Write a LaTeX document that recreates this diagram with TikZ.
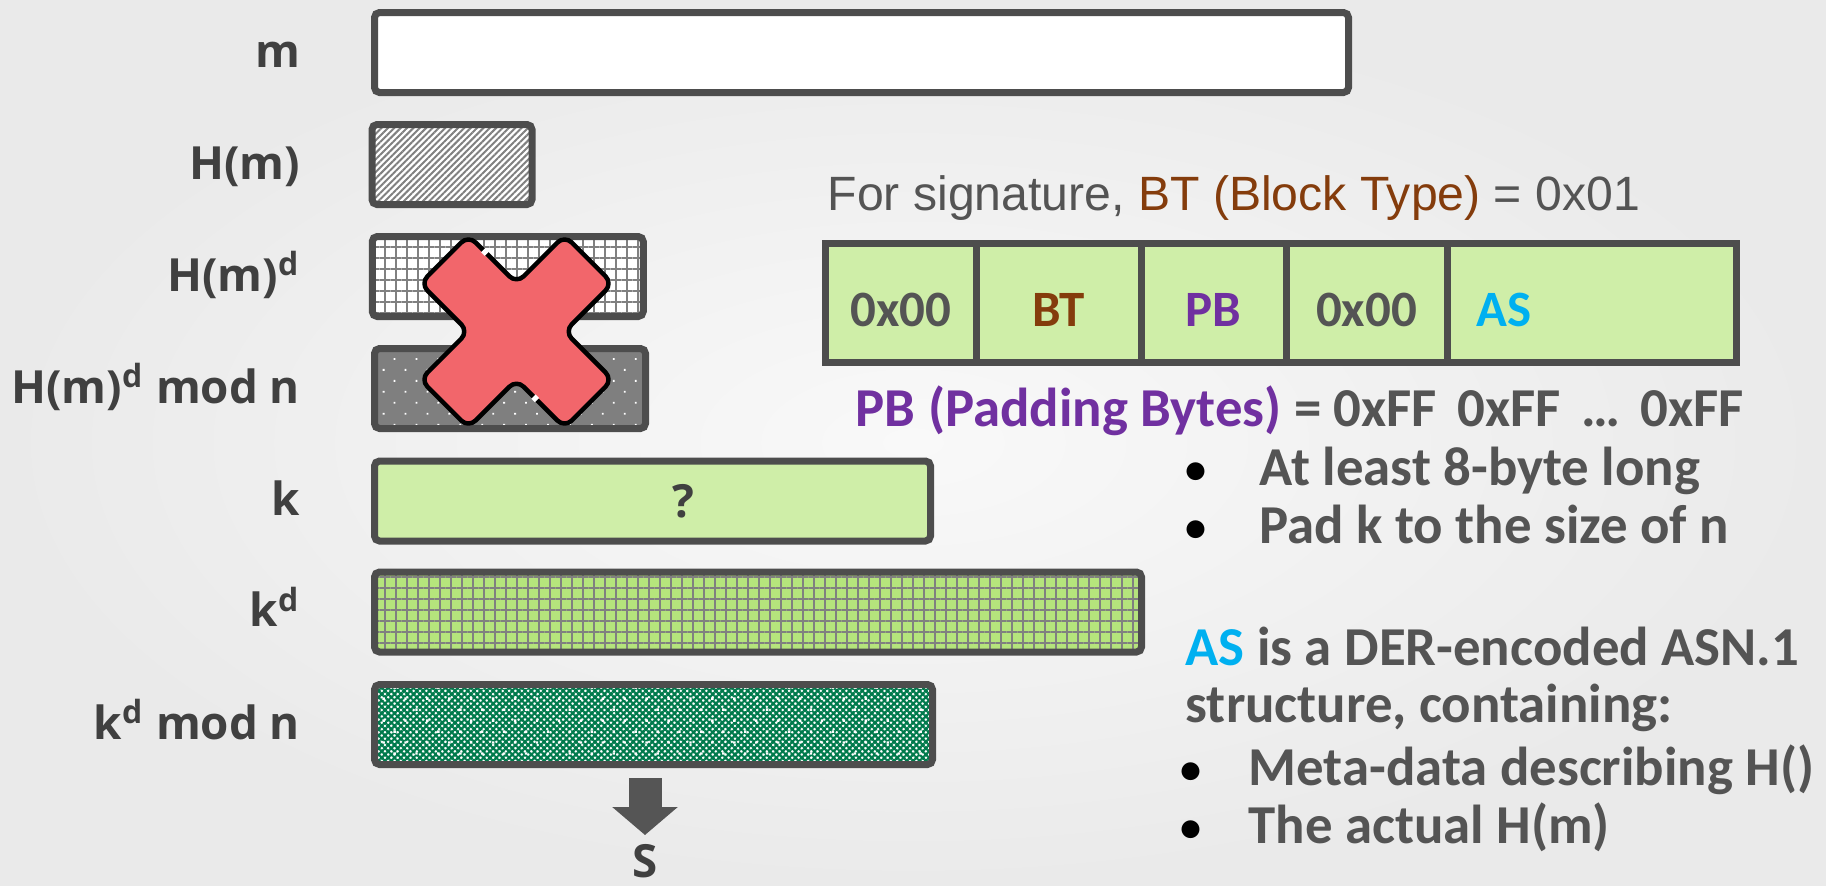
\documentclass[tikz,border=0pt]{standalone}
\usepackage{fontspec}
\setmainfont{Carlito}
\newfontfamily\labelfont{Open Sans}
\newfontfamily\titlefont{Liberation Sans}
\usetikzlibrary{arrows.meta,patterns.meta,positioning}
\definecolor{ink}{HTML}{404040}
\definecolor{bodyink}{HTML}{545454}
\definecolor{barline}{HTML}{4D4D4D}
\definecolor{gridgray}{HTML}{808080}
\definecolor{kfill}{HTML}{CFEEA8}
\definecolor{kdfill}{HTML}{B5E47C}
\definecolor{dotfill}{HTML}{7F7F7F}
\definecolor{checkgreen}{HTML}{007A4C}
\definecolor{crossfill}{HTML}{F2666B}
\definecolor{btcolor}{HTML}{843C0C}
\definecolor{pbcolor}{HTML}{7030A0}
\definecolor{ascolor}{HTML}{00B0F0}
\definecolor{arrowgray}{HTML}{555555}
\definecolor{bgin}{HTML}{F9F9F9}
\definecolor{bgout}{HTML}{EAEAEA}

\begin{document}
\begin{tikzpicture}[
  bar/.style={
    draw=barline,
    line width=0.07cm,
    rounded corners=0.05cm,
    minimum height=0.8cm,
    inner sep=0pt,
    anchor=west
  },
  lbl/.style={
    font=\labelfont\bfseries\fontsize{13pt}{15pt}\selectfont,
    text=ink,
    inner sep=0pt,
    outer sep=0pt,
    text height=0.36cm,
    text depth=0.07cm
  },
  cell/.style={
    draw=barline,
    line width=0.07cm,
    fill=kfill,
    minimum height=1.19cm,
    inner sep=0pt,
    outer sep=0pt,
    anchor=west,
    text height=0.46cm,
    text depth=0cm,
    font=\bfseries\fontsize{14.5pt}{16pt}\selectfont,
    text=bodyink
  },
  titletext/.style={font=\titlefont\fontsize{13.7pt}{16pt}\selectfont, text=bodyink, inner sep=0pt, anchor=base west},
  body/.style={font=\bfseries\fontsize{15.6pt}{18pt}\selectfont, text=bodyink, inner sep=0pt, anchor=base west},
  blockarrow/.style={draw=arrowgray, line width=0.33cm, -{Triangle[width=0.64cm,length=0.28cm]}},
  cross/.style={fill=crossfill, draw=black, line width=0.045cm, rounded corners=0.1cm, line join=round}
]

% Background
\shade[inner color=bgin, outer color=bgout] (0,0) rectangle (18.26,-8.85);
\useasboundingbox (0,0) rectangle (18.26,-8.85);

% Value bars
\node[bar, fill=white, minimum width=9.74cm] (mbar) at (3.71,-0.525) {};
\node[bar, minimum width=1.60cm, preaction={fill=white}, pattern={Lines[angle=45,distance=0.045cm,line width=0.02cm]}, pattern color=gridgray] (hbar) at (3.71,-1.645) {};
\node[bar, minimum width=2.71cm, preaction={fill=white}, pattern={Hatch[distance=0.11cm,line width=0.025cm]}, pattern color=gridgray] (hdbar) at (3.71,-2.765) {};
\node[bar, minimum width=2.71cm, preaction={fill=dotfill}, pattern={Dots[angle=45,distance=0.155cm,radius=0.013cm]}, pattern color=white] (hdnbar) at (3.71,-3.885) {};
\node[bar, fill=kfill, minimum width=5.56cm, font=\labelfont\bfseries\fontsize{13pt}{15pt}\selectfont, text=ink] (kbar) at (3.71,-5.01) {\hspace*{0.62cm}?};
\node[bar, minimum width=7.67cm, preaction={fill=kdfill}, pattern={Hatch[distance=0.11cm,line width=0.025cm]}, pattern color=gridgray] (kdbar) at (3.71,-6.12) {};
\node[bar, minimum width=5.58cm, preaction={fill=white}, preaction={pattern={Hatch[angle=45,distance=0.045cm,line width=0.022cm]}, pattern color=checkgreen}, pattern={Dots[angle=45,distance=0.155cm,radius=0.017cm]}, pattern color=white] (kdnbar) at (3.71,-7.245) {};

% Row labels
\node[lbl, left=0.71cm of mbar] (mlabel) {m};
\node[lbl, left=0.71cm of hbar] (hlabel) {H(m)};
\node[lbl, left=0.71cm of hdbar] (hdlabel) {H(m)\textsuperscript{d}};
\node[lbl, left=0.71cm of hdnbar] (hdnlabel) {H(m)\textsuperscript{d} mod n};
\node[lbl, left=0.71cm of kbar] (klabel) {k};
\node[lbl, left=0.71cm of kdbar] (kdlabel) {k\textsuperscript{d}};
\node[lbl, left=0.71cm of kdnbar] (kdnlabel) {k\textsuperscript{d} mod n};

% Red cross over H(m)^d rows
\draw[cross, shift={(5.165,-3.315)}, rotate=45]
  (-0.34,1.02) -- (0.34,1.02) -- (0.34,0.34) -- (1.02,0.34) -- (1.02,-0.34) -- (0.34,-0.34)
  -- (0.34,-1.02) -- (-0.34,-1.02) -- (-0.34,-0.34) -- (-1.02,-0.34) -- (-1.02,0.34) -- (-0.34,0.34) -- cycle;
\draw[white, line width=0.06cm, shift={(5.165,-3.315)}, rotate=45] (0.34,0.76) -- (0.34,0.81);
\draw[white, line width=0.06cm, shift={(5.165,-3.315)}, rotate=45] (-0.34,-0.58) -- (-0.34,-0.63);

% Result arrow
\node[lbl] (sres) at (6.45,-8.63) {S};
\draw[blockarrow] ([yshift=-0.10cm]kdnbar.south -| sres) -- ([yshift=0.065cm]sres.north);

% Padded block
\node[titletext] (sigtitle) at (8.27,-2.10) {For signature, \textcolor{btcolor}{BT (Block Type)} = 0x01};
\node[cell, minimum width=1.505cm] (zeroa) at (8.255,-3.03) {0x00};
\node[cell, minimum width=1.65cm, right=0cm of zeroa, text=btcolor] (btcell) {BT};
\node[cell, minimum width=1.45cm, right=0cm of btcell, text=pbcolor] (pbcell) {PB};
\node[cell, minimum width=1.61cm, right=0cm of pbcell] (zerob) {0x00};
\node[cell, minimum width=2.895cm, right=0cm of zerob, text=ascolor, text width=2.31cm, align=left] (ascell) {AS};

% Notes
\node[body] (pbline) at (8.55,-4.26) {\textcolor{pbcolor}{PB (Padding Bytes)} = 0xFF\hspace{0.08cm} 0xFF\hspace{0.08cm} …\hspace{0.08cm} 0xFF};
\node[body] (pbfirst) at (11.85,-4.85) {\makebox[0.74cm][l]{\textcolor{black}{\fontsize{12pt}{12pt}\selectfont\raisebox{0.02cm}{•}}}At least 8-byte long};
\node[body] (pbsecond) at (11.85,-5.43) {\makebox[0.74cm][l]{\textcolor{black}{\fontsize{12pt}{12pt}\selectfont\raisebox{0.02cm}{•}}}Pad k to the size of n};
\node[body] (asfirst) at (11.85,-6.65) {\textcolor{ascolor}{AS} is a DER-encoded ASN.1};
\node[body] (assecond) at (11.85,-7.22) {structure, containing:};
\node[body] (asthird) at (11.80,-7.85) {\makebox[0.68cm][l]{\textcolor{black}{\fontsize{12pt}{12pt}\selectfont\raisebox{0.02cm}{•}}}Meta-data describing H()};
\node[body] (asfourth) at (11.80,-8.43) {\makebox[0.68cm][l]{\textcolor{black}{\fontsize{12pt}{12pt}\selectfont\raisebox{0.02cm}{•}}}The actual H(m)};

\end{tikzpicture}
\end{document}
